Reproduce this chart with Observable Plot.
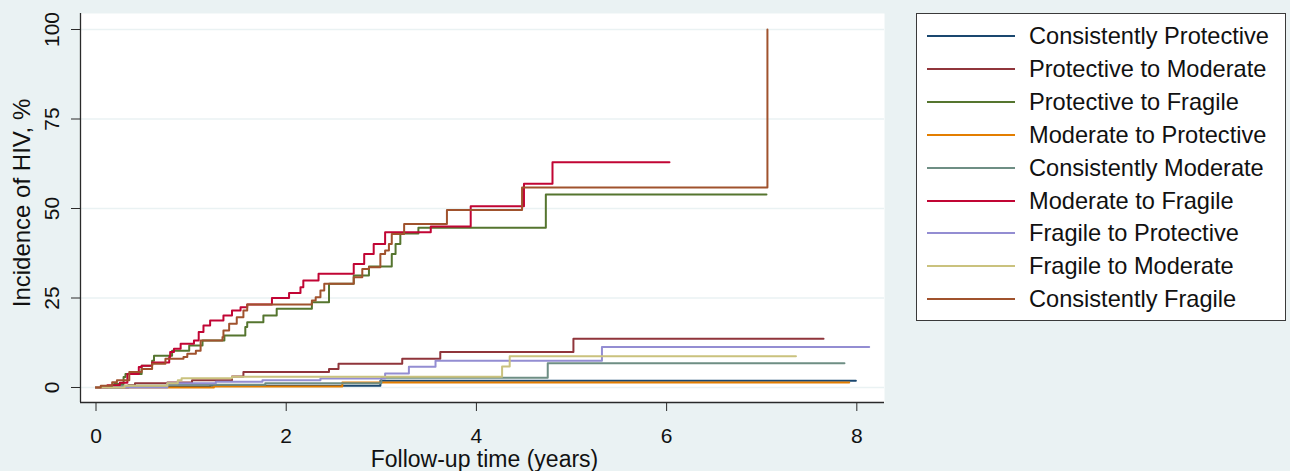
<!DOCTYPE html>
<html>
<head>
<meta charset="utf-8">
<script src="https://cdn.jsdelivr.net/npm/d3@7"></script>
<script src="https://cdn.jsdelivr.net/npm/@observablehq/plot@0.6"></script>
<style>
  html, body { margin: 0; padding: 0; background: #eaf2f3; }
  #wrap { position: relative; width: 1290px; height: 471px; background: #eaf2f3; overflow: hidden; font-family: "Liberation Sans", Arial, sans-serif; }
  #chart { position: absolute; left: 0; top: 0; }
  #legend { position: absolute; left: 916px; top: 13px; width: 370px; height: 308px; background: #fff; border: 1.5px solid #3a3a3a; box-sizing: border-box; }
  .row { position: absolute; left: 0; height: 30px; }
  .sw { position: absolute; left: 10px; width: 88px; height: 0; border-top: 2px solid; }
  .lb { position: absolute; left: 112px; white-space: nowrap; font-size: 23.6px; color: #111; line-height: 30px; top: 0; }
</style>
</head>
<body>
<div id="wrap">
  <div id="chart"></div>
  <div id="legend"></div>
</div>
<script>
// ---- data ----
const seriesNames = [
  "Consistently Protective", "Protective to Moderate", "Protective to Fragile",
  "Moderate to Protective", "Consistently Moderate", "Moderate to Fragile",
  "Fragile to Protective", "Fragile to Moderate", "Consistently Fragile"
];
const seriesColors = ["#1a476f", "#90353b", "#55752f", "#e37e00", "#6e8e84", "#c10534", "#938dd2", "#cac27e", "#a0522d"];

// [time (years), cumulative incidence %]
const consistentlyProtective = [[0,0],[0.3,0.3],[1.2,0.5],[2.99,1.9],[7.99,1.9]];
const protectiveToModerate = [[0,0],[0.34,0.6],[0.41,1.2],[0.75,1.4],[1.01,2.0],[1.43,3.1],[1.55,4.3],[2.45,5.2],[2.55,6.6],[3.22,8.0],[3.62,9.9],[5.02,13.6],[7.65,13.6]];
const protectiveToFragile = [[0,0],[0.19,1.0],[0.29,2.9],[0.31,3.8],[0.48,6.1],[0.59,7.5],[0.61,8.9],[0.80,10.3],[0.98,11.7],[1.12,13.1],[1.35,14.5],[1.57,16.9],[1.59,18.2],[1.76,20.1],[1.90,22.0],[2.27,23.8],[2.45,29.0],[2.71,31.3],[2.87,33.8],[3.11,37.3],[3.15,40.1],[3.20,43.0],[3.39,44.6],[4.73,53.9],[7.05,53.9]];
const moderateToProtective = [[0,0],[1.24,0.3],[2.59,1.4],[7.92,1.4]];
const consistentlyModerate = [[0,0],[0.26,0.5],[0.75,0.8],[1.78,1.2],[3.0,2.7],[4.75,6.8],[7.87,6.8]];
const moderateToFragile = [[0,0],[0.12,0.6],[0.25,1.3],[0.33,3.8],[0.45,5.7],[0.48,6.1],[0.59,7.0],[0.77,8.5],[0.78,9.9],[0.82,10.8],[0.89,12.2],[1.03,13.1],[1.08,15.5],[1.13,17.3],[1.20,18.7],[1.34,20.1],[1.43,21.5],[1.52,22.4],[1.59,23.2],[1.85,25.0],[2.03,26.4],[2.15,28.0],[2.18,29.9],[2.34,31.8],[2.71,34.5],[2.82,37.3],[2.92,40.1],[3.04,43.4],[3.52,45.0],[3.94,50.6],[4.50,56.9],[4.80,62.9],[6.03,62.9]];
const fragileToProtective = [[0,0],[0.75,1.2],[1.26,1.6],[1.75,2.0],[2.36,2.5],[3.04,3.9],[3.29,5.8],[3.57,7.5],[5.32,11.3],[8.13,11.3]];
const fragileToModerate = [[0,0],[0.3,0.5],[0.75,1.2],[0.86,2.0],[0.9,2.6],[1.43,3.0],[4.27,5.9],[4.35,8.7],[7.36,8.7]];
const consistentlyFragile = [[0,0],[0.05,0.5],[0.17,1.5],[0.22,2.0],[0.35,4.3],[0.48,5.2],[0.59,6.6],[0.73,8.0],[0.92,8.5],[0.96,9.4],[1.05,10.3],[1.10,13.1],[1.33,14.1],[1.34,15.9],[1.40,17.8],[1.48,19.6],[1.55,21.5],[1.59,23.2],[2.27,24.3],[2.31,25.2],[2.36,27.1],[2.40,29.0],[2.71,30.8],[2.80,33.1],[2.87,33.6],[2.99,37.3],[3.04,38.3],[3.08,40.1],[3.11,42.9],[3.24,45.7],[3.69,49.6],[4.48,55.9],[7.06,55.9],[7.06,100]];

const seriesData = [consistentlyProtective, protectiveToModerate, protectiveToFragile, moderateToProtective, consistentlyModerate, moderateToFragile, fragileToProtective, fragileToModerate, consistentlyFragile];

const xTicks = [0, 2, 4, 6, 8];
const yTicks = [0, 25, 50, 75, 100];
const xTitle = "Follow-up time (years)";
const yTitle = "Incidence of HIV, %";

// ---- build table ----
const rows = [];
seriesData.forEach((arr, i) => arr.forEach(([t, v]) => rows.push({series: seriesNames[i], t, v})));

const xDomain = [-0.163, 8.291];
const yDomain = [-4.19, 104.47];

const chart = Plot.plot({
  width: 900,
  height: 471,
  marginLeft: 80, marginRight: 16, marginTop: 13, marginBottom: 69,
  style: {background: "transparent", fontFamily: "'Liberation Sans', Arial, sans-serif", color: "#2a2a2a", overflow: "visible"},
  x: {domain: xDomain, ticks: xTicks, tickSize: 9, tickFormat: () => "", label: null},
  y: {domain: yDomain, ticks: yTicks, tickSize: 9, tickFormat: () => "", label: null},
  color: {domain: seriesNames, range: seriesColors},
  marks: [
    Plot.frame({fill: "white", stroke: null}),
    Plot.ruleY(yTicks, {stroke: "#eaf2f3", strokeWidth: 1.6}),
    ...seriesNames.map(name => Plot.line(rows.filter(r => r.series === name), {
      x: "t", y: "v", stroke: "series", curve: "step-after", strokeWidth: 2
    })),
    Plot.ruleX([xDomain[0]], {stroke: "#2a2a2a", strokeWidth: 1.3}),
    Plot.ruleY([yDomain[0]], {stroke: "#2a2a2a", strokeWidth: 1.3}),
    Plot.text(xTicks, {x: d => d, text: d => String(d), frameAnchor: "bottom", lineAnchor: "middle", dy: 34, fontSize: 21, fill: "#111"}),
    Plot.text(yTicks, {y: d => d, text: d => String(d), frameAnchor: "left", textAnchor: "middle", lineAnchor: "middle", dx: -28, rotate: -90, fontSize: 21, fill: "#111"}),
    Plot.text([xTitle], {text: d => d, frameAnchor: "bottom", textAnchor: "middle", lineAnchor: "middle", dy: 57, dx: 2, fontSize: 23, fill: "#111"}),
    Plot.text([yTitle], {text: d => d, frameAnchor: "left", textAnchor: "middle", lineAnchor: "middle", dx: -58, dy: -5, rotate: -90, fontSize: 24, fill: "#111"})
  ]
});
document.getElementById("chart").appendChild(chart);

// ---- legend ----
const legend = document.getElementById("legend");
seriesNames.forEach((name, i) => {
  const row = document.createElement("div");
  row.className = "row";
  row.style.top = (7 + i * 32.9) + "px";
  row.style.width = "100%";
  const sw = document.createElement("div");
  sw.className = "sw";
  sw.style.borderTopColor = seriesColors[i];
  sw.style.top = "14px";
  const lb = document.createElement("div");
  lb.className = "lb";
  lb.textContent = name;
  row.appendChild(sw);
  row.appendChild(lb);
  legend.appendChild(row);
});
</script>
</body>
</html>
